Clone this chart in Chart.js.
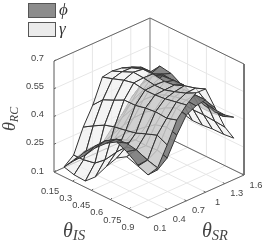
<!DOCTYPE html>
<html><head><meta charset="utf-8">
<style>html,body{margin:0;padding:0;background:#fff}canvas{display:block}</style>
<script src="https://cdn.jsdelivr.net/npm/chart.js@4"></script>
</head><body><canvas id="c" width="269" height="245"></canvas>
<script>
const thetaIS=[.23,.31,.40,.48,.57,.65,.73,.82,.90];
const thetaSR=[.10,.25,.40,.55,.70,.85,1.00,1.15,1.30,1.44];
const isTicks=[.15,.3,.45,.6,.75,.9];
const srTicks=[.1,.4,.7,1,1.3,1.6];
const rcTicks=[.1,.25,.4,.55,.7];
const isTickText=['0.15','0.3','0.45','0.6','0.75','0.9'];
const srTickText=['0.1','0.4','0.7','1','1.3','1.6'];
const rcTickText=['0.1','0.25','0.4','0.55','0.7'];
const gamma=[
[.154,.138,.134,.183,.270,.341,.375,.354,.333],
[.195,.196,.208,.252,.323,.378,.389,.363,.348],
[.323,.356,.390,.407,.418,.430,.452,.475,.449],
[.419,.474,.502,.529,.530,.542,.548,.543,.560],
[.547,.564,.586,.598,.588,.589,.595,.607,.618],
[.556,.579,.606,.602,.592,.593,.610,.632,.660],
[.549,.577,.599,.600,.590,.596,.619,.636,.658],
[.531,.554,.549,.534,.529,.535,.542,.548,.532],
[.508,.509,.494,.456,.419,.415,.416,.411,.406],
[.452,.442,.389,.325,.310,.311,.317,.318,.324]];
const phi=[
[.154,.214,.274,.340,.395,.428,.402,.359,.333],
[.168,.234,.299,.354,.393,.399,.389,.363,.337],
[.188,.243,.292,.336,.364,.392,.388,.394,.378],
[.192,.241,.291,.346,.395,.439,.478,.495,.479],
[.190,.261,.343,.409,.469,.508,.546,.574,.564],
[.248,.330,.412,.483,.538,.566,.583,.594,.590],
[.295,.393,.486,.546,.585,.596,.597,.598,.599],
[.364,.462,.538,.566,.572,.573,.547,.532,.522],
[.411,.498,.526,.521,.506,.480,.470,.460,.471],
[.458,.518,.508,.476,.418,.402,.403,.415,.437]];

const T=a=>(a-.15)/.75,S=a=>(a-.1)/1.5,Z=a=>(a-.1)/.6;
const P=(is,sr,z)=>({x:54+94*T(is)+96*S(sr),y:172+46*T(is)-43*S(sr)-111*Z(z)});
const depth=(is,sr,z)=>T(is)-.979*S(sr)+.794*Z(z);
const ds=[];
const seg=(a,b,color,w)=>ds.push({data:[a,b],borderColor:color,borderWidth:w,showLine:true,pointRadius:0,fill:false,tension:0});
const GRID='#e6e6e6',EDGE='#666666';
const is0=.15,is1=.9,sr0=.1,sr1=1.6,z0=.1,z1=.7;
srTicks.forEach(s=>{seg(P(is0,s,z0),P(is1,s,z0),GRID,1);seg(P(is0,s,z0),P(is0,s,z1),GRID,1);});
isTicks.forEach(i=>{seg(P(i,sr0,z0),P(i,sr1,z0),GRID,1);seg(P(i,sr1,z0),P(i,sr1,z1),GRID,1);});
rcTicks.forEach(z=>{seg(P(is0,sr0,z),P(is0,sr1,z),GRID,1);seg(P(is0,sr1,z),P(is1,sr1,z),GRID,1);});
seg(P(is0,sr1,z0),P(is0,sr1,z1),'#aaaaaa',1.6);
[[is0,sr0,z0,is0,sr0,z1],[is0,sr0,z1,is0,sr1,z1],[is0,sr1,z1,is1,sr1,z1],[is1,sr1,z1,is1,sr1,z0],
 [is0,sr0,z0,is1,sr0,z0],[is1,sr0,z0,is1,sr1,z0],[is0,sr0,z0,is0,sr1,z0],[is0,sr1,z0,is1,sr1,z0]]
 .forEach(e=>seg(P(e[0],e[1],e[2]),P(e[3],e[4],e[5]),EDGE,1));
isTicks.forEach(i=>seg(P(i,sr0,z0),{x:P(i,sr0,z0).x+1.5,y:P(i,sr0,z0).y-1.5},EDGE,1));
srTicks.forEach(s=>seg(P(is1,s,z0),{x:P(is1,s,z0).x-2,y:P(is1,s,z0).y-1},EDGE,1));
rcTicks.forEach(z=>seg(P(is0,sr0,z),{x:P(is0,sr0,z).x+2,y:P(is0,sr0,z).y-1},EDGE,1));

const quads=[];
[[phi,'rgba(122,122,122,0.9)'],[gamma,'rgba(240,240,240,0.7)']].forEach(([m,col])=>{
  for(let j=0;j<thetaSR.length-1;j++)for(let i=0;i<thetaIS.length-1;i++){
    const c=[[i,j],[i+1,j],[i+1,j+1],[i,j+1]];
    const pts=c.map(([a,b])=>P(thetaIS[a],thetaSR[b],m[b][a]));
    pts.push(pts[0]);
    const d=c.reduce((acc,[a,b])=>acc+depth(thetaIS[a],thetaSR[b],m[b][a]),0)/4;
    quads.push({d,pts,col});
  }
});
quads.sort((a,b)=>a.d-b.d).forEach(q=>ds.push({data:q.pts,showLine:true,pointRadius:0,tension:0,
  borderColor:'#333333',borderWidth:1,backgroundColor:q.col,fill:'shape'}));
ds.forEach((d,k)=>{d.order=ds.length-k;d.clip=false;});

const labels={id:'labels',afterDatasetsDraw(ch){
  const c=ch.ctx;c.save();
  c.fillStyle='#444';c.textBaseline='middle';c.textAlign='center';c.font='9.3px "Liberation Sans"';
  isTickText.forEach((t,k)=>c.fillText(t,50+15.6*k,191+7.3*k));
  srTickText.forEach((t,k)=>{const p=P(is1,srTicks[k],z0);c.fillText(t,p.x+12,p.y+10);});
  c.textAlign='right';
  rcTickText.forEach((t,k)=>{const p=P(is0,sr0,rcTicks[k]);c.fillText(t,44,p.y-1-1.5*Z(rcTicks[k]));});
  [[3,'#8c8c8c','\u03d5'],[22,'#ebebeb','\u03b3']].forEach(([y,col,t])=>{
    c.fillStyle=col;c.strokeStyle='#555';c.lineWidth=1;c.fillRect(28.5,y+.5,27,14);c.strokeRect(28.5,y+.5,27,14);
    c.fillStyle='#333';c.textAlign='left';c.font='italic 17px "Liberation Serif"';c.fillText(t,59,y+8);
  });
  const lab=(x,y,rot,a,b,fa,fb)=>{c.save();c.translate(x,y);c.rotate(rot);c.textAlign='left';c.textBaseline='alphabetic';
    c.fillStyle='#444';c.font='italic '+fa+'px "Liberation Serif"';c.fillText(a,0,0);const w=c.measureText(a).width;
    c.font='italic '+fb+'px "Liberation Serif"';c.fillText(b,w,3);c.restore();};
  lab(15,131,-Math.PI/2,'\u03b8','RC',18,12);
  lab(63,237,0,'\u03b8','IS',20,15);
  lab(202,237,0,'\u03b8','SR',20,14.5);
  c.restore();
}};
new Chart(document.getElementById('c'),{type:'scatter',data:{datasets:ds},plugins:[labels],options:{
  responsive:false,animation:false,events:[],layout:{padding:0},
  plugins:{legend:{display:false},tooltip:{enabled:false},title:{display:false}},
  scales:{x:{type:'linear',min:0,max:269,display:false},y:{type:'linear',min:0,max:245,reverse:true,display:false}}
}});
</script></body></html>
